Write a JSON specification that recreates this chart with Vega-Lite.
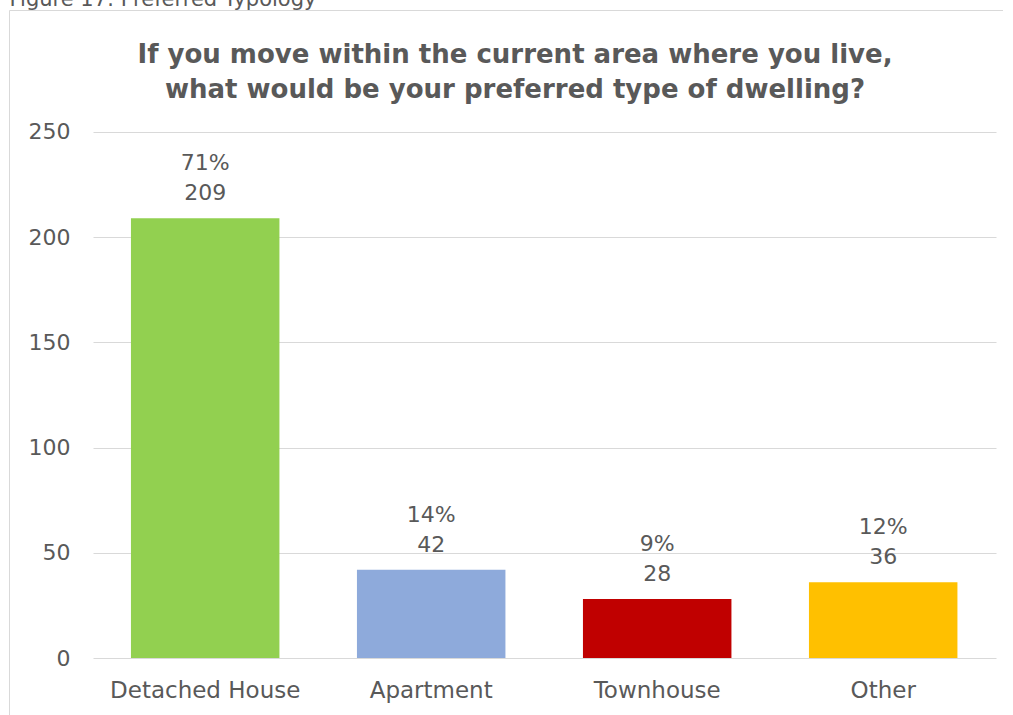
{
  "$schema": "https://vega.github.io/schema/vega-lite/v6.json",
  "width": 994,
  "height": 720,
  "autosize": {"type": "none"},
  "padding": {"left": 9, "top": 10, "right": 0, "bottom": 0},
  "background": "white",
  "title": {
    "text": ["If you move within the current area where you live,", "what would be your preferred type of dwelling?"],
    "anchor": "middle",
    "offset": -115,
    "dx": 9,
    "font": "DejaVu Sans",
    "fontSize": 26,
    "fontWeight": "bold",
    "color": "#595959",
    "lineHeight": 35
  },
  "data": {
    "values": [
      {"dwelling": "Detached House", "count": 209, "share": "71%"},
      {"dwelling": "Apartment", "count": 42, "share": "14%"},
      {"dwelling": "Townhouse", "count": 28, "share": "9%"},
      {"dwelling": "Other", "count": 36, "share": "12%"}
    ]
  },
  "encoding": {
    "x": {
      "field": "dwelling",
      "type": "nominal",
      "sort": null,
      "scale": {"paddingInner": 0.343, "paddingOuter": 0.3706, "align": 0.728},
      "axis": {
        "title": null,
        "orient": "bottom",
        "offset": -72,
        "domain": false,
        "ticks": false,
        "labelAngle": 0,
        "labelPadding": 21,
        "labelLimit": 0,
        "labelFont": "DejaVu Sans",
        "labelFontSize": 23,
        "labelColor": "#595959"
      }
    },
    "y": {
      "field": "count",
      "type": "quantitative",
      "scale": {"domain": [-34.22, 307.98], "nice": false, "zero": false},
      "axis": {
        "title": "Figure 17: Preferred Typology",
        "titleAngle": 0,
        "titleAlign": "left",
        "titleBaseline": "alphabetic",
        "titleX": -84,
        "titleY": -5,
        "titleFont": "DejaVu Sans",
        "titleFontSize": 21,
        "titleFontWeight": "normal",
        "titleColor": "#595959",
        "offset": -84,
        "values": [0, 50, 100, 150, 200, 250],
        "domain": false,
        "grid": false,
        "ticks": true,
        "tickSize": -903,
        "tickColor": "#d9d9d9",
        "tickWidth": 1,
        "labelPadding": 926,
        "labelFont": "DejaVu Sans",
        "labelFontSize": 22,
        "labelColor": "#595959"
      }
    }
  },
  "layer": [
    {
      "mark": {"type": "bar"},
      "encoding": {
        "y2": {"datum": 0},
        "color": {
          "field": "dwelling",
          "type": "nominal",
          "scale": {
            "domain": ["Detached House", "Apartment", "Townhouse", "Other"],
            "range": ["#92d050", "#8eaadb", "#c00000", "#ffc000"]
          },
          "legend": null
        }
      }
    },
    {
      "mark": {"type": "text", "baseline": "middle", "dy": -25, "font": "DejaVu Sans", "fontSize": 22, "color": "#595959"},
      "encoding": {"text": {"field": "count", "type": "quantitative"}}
    },
    {
      "mark": {"type": "text", "baseline": "middle", "dy": -55, "font": "DejaVu Sans", "fontSize": 22, "color": "#595959"},
      "encoding": {"text": {"field": "share", "type": "nominal"}}
    }
  ],
  "config": {
    "view": {"stroke": "#d9d9d9", "strokeWidth": 1}
  }
}
